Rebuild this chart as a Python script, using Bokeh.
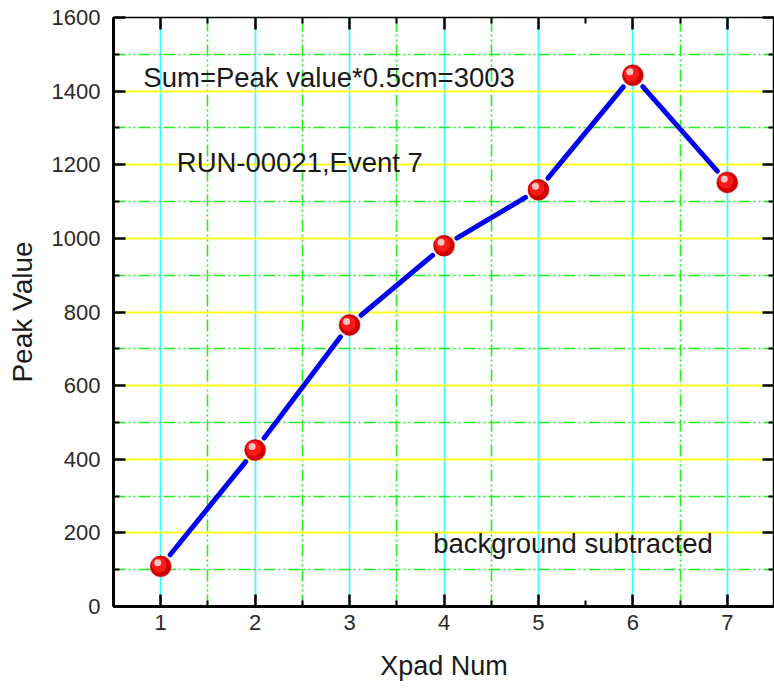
import math

from bokeh.embed import file_html
from bokeh.models import (CustomJSTickFormatter, FixedTicker, Label,
                          LinearAxis, Range1d)
from bokeh.plotting import figure
from bokeh.resources import INLINE

# Peak value per pad for RUN-00021, event 7 (background subtracted)
xpad = [1, 2, 3, 4, 5, 6, 7]
peak = [109, 425, 765, 980, 1132, 1443, 1152]

x_ticks = [1, 2, 3, 4, 5, 6, 7]
x_minor_ticks = [1.5, 2.5, 3.5, 4.5, 5.5, 6.5]
x_minor_grid = [1.5, 2.5, 3.5, 4.5, 6.5]
y_ticks = [0, 200, 400, 600, 800, 1000, 1200, 1400, 1600]
y_minor_ticks = [100, 300, 500, 700, 900, 1100, 1300, 1500]

x_lo, x_hi = 0.5, 7.5
y_lo, y_hi = 0, 1600

W, H = 774, 689
ML, MR, MT, MB = 113, 0, 17, 83
FW, FH = W - ML - MR, H - MT - MB
sx = FW / (x_hi - x_lo)   # px per x unit
sy = FH / (y_hi - y_lo)   # px per y unit

FONT = "Liberation Sans"

p = figure(width=W, height=H, x_range=Range1d(x_lo, x_hi), y_range=Range1d(y_lo, y_hi),
           output_backend="svg", toolbar_location=None,
           min_border_left=ML, min_border_right=MR, min_border_top=MT, min_border_bottom=MB,
           x_axis_label="Xpad Num", y_axis_label="Peak Value")
p.background_fill_color = "white"
p.border_fill_color = "white"
p.outline_line_color = "black"
p.outline_line_width = 1.5

# axes: inward ticks
for ax in (p.xaxis[0], p.yaxis[0]):
    ax.axis_line_width = 3
    ax.axis_line_color = "black"
    ax.major_tick_in = 12
    ax.major_tick_out = 0
    ax.minor_tick_in = 6
    ax.minor_tick_out = 0
    ax.major_tick_line_width = 2.5
    ax.minor_tick_line_width = 2
    ax.major_tick_line_color = "black"
    ax.minor_tick_line_color = "black"
    ax.major_label_text_font = FONT
    ax.major_label_text_font_size = "22px"
    ax.major_label_text_color = "#2a2a2a"
    ax.axis_label_text_font = FONT
    ax.axis_label_text_font_style = "normal"
    ax.axis_label_text_color = "#1a1a1a"

p.xaxis.ticker = FixedTicker(ticks=x_ticks, minor_ticks=x_minor_ticks)
p.yaxis.ticker = FixedTicker(ticks=y_ticks, minor_ticks=y_minor_ticks)
p.xaxis.major_label_standoff = 8
p.yaxis.major_label_standoff = 13
p.xaxis.axis_label_text_font_size = "27px"
p.yaxis.axis_label_text_font_size = "28px"
p.xaxis.axis_label_standoff = 18
p.yaxis.axis_label_standoff = 11

# mirrored axes on top and right, ticks only
blank = CustomJSTickFormatter(code="return ''")
top = LinearAxis(ticker=FixedTicker(ticks=x_ticks, minor_ticks=x_minor_ticks), formatter=blank)
right = LinearAxis(ticker=FixedTicker(ticks=y_ticks, minor_ticks=y_minor_ticks), formatter=blank)
for ax in (top, right):
    ax.axis_line_color = None
    ax.major_tick_in = 12
    ax.major_tick_out = 0
    ax.minor_tick_in = 6
    ax.minor_tick_out = 0
    ax.major_tick_line_width = 2.5
    ax.minor_tick_line_width = 2
    ax.major_label_standoff = 0
    ax.major_label_text_font_size = "0px"
p.add_layout(top, "above")
p.add_layout(right, "right")

# grids: cyan/yellow majors, green dash-dot-dot minors
p.xgrid.ticker = FixedTicker(ticks=x_ticks, minor_ticks=x_minor_grid)
p.xgrid.grid_line_color = "#33ffff"
p.xgrid.grid_line_width = 1.7
p.xgrid.minor_grid_line_color = "#22ee22"
p.xgrid.minor_grid_line_width = 1.6
p.xgrid.minor_grid_line_dash = "12 3 2 3 2 3"

p.ygrid.ticker = FixedTicker(ticks=y_ticks, minor_ticks=y_minor_ticks)
p.ygrid.grid_line_color = "#ffff22"
p.ygrid.grid_line_width = 2
p.ygrid.minor_grid_line_color = "#22ee22"
p.ygrid.minor_grid_line_width = 1.6
p.ygrid.minor_grid_line_dash = "12 3 2 3 2 3"

# connecting line, with a small gap left around each marker
gap = 15
x0s, y0s, x1s, y1s = [], [], [], []
for i in range(len(xpad) - 1):
    xa, ya, xb, yb = xpad[i], peak[i], xpad[i + 1], peak[i + 1]
    L = math.hypot((xb - xa) * sx, (yb - ya) * sy)
    f = gap / L
    x0s.append(xa + f * (xb - xa)); y0s.append(ya + f * (yb - ya))
    x1s.append(xb - f * (xb - xa)); y1s.append(yb - f * (yb - ya))
p.segment(x0s, y0s, x1s, y1s, line_color="#0000f0", line_width=5, line_cap="round")

# shaded red sphere markers
p.scatter(xpad, peak, size=21, fill_color="#d00000", line_color="#c00000", line_width=0.5)
hx = [x - 1.5 / sx for x in xpad]
hy = [y + 1.5 / sy for y in peak]
p.scatter(hx, hy, size=15, fill_color="#ff1a1a", line_color=None)
hx2 = [x - 3 / sx for x in xpad]
hy2 = [y + 3.5 / sy for y in peak]
p.scatter(hx2, hy2, size=7, fill_color="white", fill_alpha=0.75, line_color=None)

# annotations
notes = [
    (0.816, 1436, "Sum=Peak value*0.5cm=3003"),
    (1.17, 1207, "RUN-00021,Event 7"),
    (3.885, 172, "background subtracted"),
]
for nx, ny, txt in notes:
    p.add_layout(Label(x=nx, y=ny, text=txt, text_font=FONT, text_font_size="27.5px",
                       text_color="#1a1a1a", text_align="left", text_baseline="alphabetic"))

open("out.html", "w").write(file_html(p, INLINE))
